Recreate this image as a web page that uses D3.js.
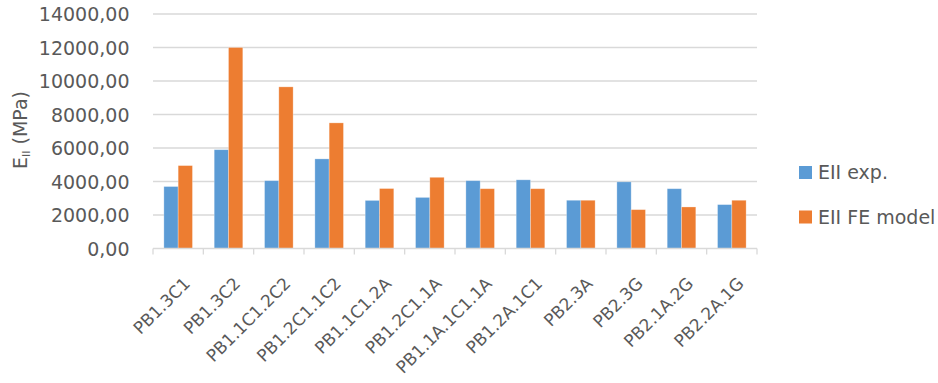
<!DOCTYPE html>
<html>
<head>
<meta charset="utf-8">
<script src="https://cdn.jsdelivr.net/npm/d3@7"></script>
<style>
  html, body { margin: 0; padding: 0; background: #fff; }
  svg text { font-family: "DejaVu Sans", "Open Sans", sans-serif; fill: #595959; }
</style>
</head>
<body>
<svg id="chart" width="938" height="383"></svg>
<script>
// Specimen names along the x axis
const categories = ["PB1.3C1", "PB1.3C2", "PB1.1C1.2C2", "PB1.2C1.1C2", "PB1.1C1.2A",
  "PB1.2C1.1A", "PB1.1A.1C1.1A", "PB1.2A.1C1", "PB2.3A", "PB2.3G", "PB2.1A.2G", "PB2.2A.1G"];

// Measured stiffness (MPa)
const expValues = [3700, 5900, 4050, 5350, 2870, 3050, 4050, 4100, 2880, 3980, 3570, 2620];
// Finite element model stiffness (MPa)
const feValues = [4950, 12000, 9650, 7500, 3580, 4250, 3570, 3570, 2880, 2320, 2480, 2880];

const seriesNames = ["EII exp.", "EII FE model"];
const seriesColors = ["#5B9BD5", "#ED7D31"];
const yTicks = [0, 2000, 4000, 6000, 8000, 10000, 12000, 14000];

const fmt = v => d3.format(".2f")(v).replace(".", ",");

const svg = d3.select("#chart");
const margin = { left: 153, right: 181, top: 14, bottom: 134.5 };
const W = 938, H = 383;
const plotW = W - margin.left - margin.right;
const plotH = H - margin.top - margin.bottom;

const g = svg.append("g").attr("transform", `translate(${margin.left},${margin.top})`);

const x = d3.scaleBand().domain(categories).range([0, plotW]).paddingInner(0).paddingOuter(0);
const barW = x.bandwidth() * 0.284;
const y = d3.scaleLinear().domain([0, 14000]).range([plotH, 0]);

// Horizontal gridlines
g.append("g")
  .selectAll("line")
  .data(yTicks.filter(t => t > 0))
  .join("line")
  .attr("x1", 0).attr("x2", plotW)
  .attr("y1", d => y(d)).attr("y2", d => y(d))
  .attr("stroke", "#D9D9D9").attr("stroke-width", 1.3);

// Y axis tick labels
const yAxis = d3.axisLeft(y).tickValues(yTicks).tickFormat(fmt).tickSize(0).tickPadding(23.5);
const yG = g.append("g").call(yAxis);
yG.select(".domain").remove();
yG.selectAll("text")
  .style("font-size", "19px")
  .style("font-family", "'DejaVu Sans', sans-serif")
  .attr("fill", "#595959").attr("dy", "0.36em");

// Bars
const series = [expValues, feValues];
series.forEach((vals, si) => {
  g.append("g")
    .selectAll("rect")
    .data(vals)
    .join("rect")
    .attr("x", (d, i) => x(categories[i]) + x.bandwidth() / 2 - barW + si * barW)
    .attr("y", d => y(d))
    .attr("width", barW)
    .attr("height", d => plotH - y(d))
    .attr("fill", seriesColors[si])
    .attr("stroke", "#ffffff")
    .attr("stroke-opacity", 0.35)
    .attr("stroke-width", 0.8);
});

// X axis baseline with boundary ticks
const xAxisG = g.append("g").attr("transform", `translate(0,${plotH})`);
xAxisG.append("line")
  .attr("x1", 0).attr("x2", plotW).attr("y1", 0).attr("y2", 0)
  .attr("stroke", "#D9D9D9").attr("stroke-width", 1.3);
const boundaries = categories.map(c => x(c)).concat([plotW]);
xAxisG.selectAll("line.tick")
  .data(boundaries)
  .join("line")
  .attr("class", "tick")
  .attr("x1", d => d).attr("x2", d => d)
  .attr("y1", 0).attr("y2", 6)
  .attr("stroke", "#D9D9D9").attr("stroke-width", 1.3);

// Rotated category labels
xAxisG.selectAll("text")
  .data(categories)
  .join("text")
  .attr("transform", d => `translate(${x(d) + x.bandwidth() / 2 + 8.7},${32}) rotate(-45)`)
  .attr("text-anchor", "end")
  .attr("dy", "0.35em")
  .style("font-size", "17px")
  .text(d => d);

// Y axis title with subscript
const title = svg.append("text")
  .attr("transform", `translate(27,${130}) rotate(-90)`)
  .attr("text-anchor", "middle")
  .style("font-size", "19px");
title.append("tspan").text("E");
title.append("tspan").text("II").attr("baseline-shift", "-30%").style("font-size", "11px");
title.append("tspan").text(" (MPa)").attr("dx", 0);

// Legend
const legend = svg.append("g").attr("transform", "translate(799,166)");
seriesNames.forEach((name, i) => {
  const row = legend.append("g").attr("transform", `translate(0,${i * 44.5})`);
  row.append("rect").attr("width", 13).attr("height", 13).attr("fill", seriesColors[i]);
  row.append("text").attr("x", 19).attr("y", 6.5).attr("dy", "0.36em")
    .style("font-size", "19px").text(name);
});
</script>
</body>
</html>
